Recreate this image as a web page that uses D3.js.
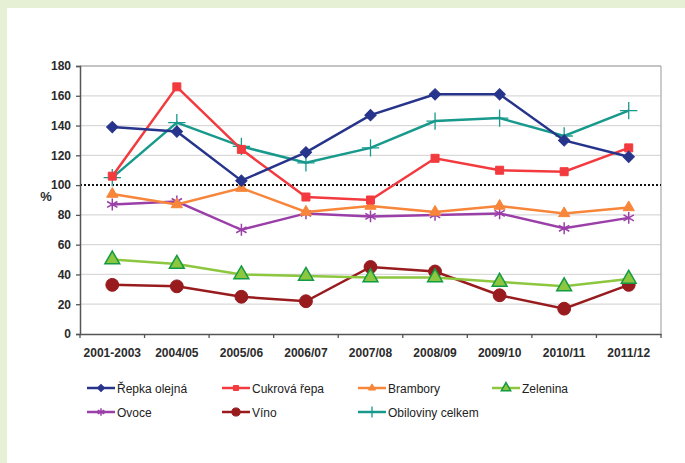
<!DOCTYPE html>
<html>
<head>
<meta charset="utf-8">
<script src="https://cdn.jsdelivr.net/npm/d3@7"></script>
<style>
  body { margin: 0; background: #fff; }
  text { font-family: "Liberation Sans", Arial, sans-serif; }
</style>
</head>
<body>
<div id="chart"></div>
<script>
// categories and series values
var categories = ["2001-2003", "2004/05", "2005/06", "2006/07", "2007/08", "2008/09", "2009/10", "2010/11", "2011/12"];
var yTicks = [0, 20, 40, 60, 80, 100, 120, 140, 160, 180];

var repka = [139, 136, 103, 122, 147, 161, 161, 130, 119];
var cukrovka = [106, 166, 124, 92, 90, 118, 110, 109, 125];
var brambory = [94, 87, 98, 82, 86, 82, 86, 81, 85];
var zelenina = [50, 47, 40, 39, 38, 38, 35, 32, 37];
var ovoce = [87, 89, 70, 81, 79, 80, 81, 71, 78];
var vino = [33, 32, 25, 22, 45, 42, 26, 17, 33];
var obiloviny = [105, 142, 126, 115, 125, 143, 145, 133, 150];

var width = 685, height = 463;

// plot area
var margin = { top: 66, right: 24, bottom: 129, left: 80 };

var svg = d3.select("#chart").append("svg")
  .attr("width", width)
  .attr("height", height);

// light green frame of the page
svg.append("rect").attr("x", 0).attr("y", 0).attr("width", width).attr("height", 8).attr("fill", "#e6f0d5");
svg.append("rect").attr("x", 0).attr("y", 0).attr("width", 7).attr("height", height).attr("fill", "#e6f0d5");

var x = d3.scaleBand()
  .domain(categories)
  .range([margin.left, width - margin.right]);

var y = d3.scaleLinear()
  .domain([0, 180])
  .range([height - margin.bottom, margin.top]);

// gridlines
svg.append("g")
  .selectAll("line")
  .data(yTicks.filter(function (d) { return d > 0 && d !== 100; }))
  .join("line")
  .attr("x1", margin.left)
  .attr("x2", width - margin.right)
  .attr("y1", function (d) { return y(d); })
  .attr("y2", function (d) { return y(d); })
  .attr("stroke", function (d) { return d === 180 ? "#b0b0b0" : "#d9d9d9"; })
  .attr("stroke-width", function (d) { return d === 180 ? 1.5 : 1.3; });

// right border of the plot area
svg.append("line")
  .attr("x1", width - margin.right).attr("x2", width - margin.right)
  .attr("y1", margin.top).attr("y2", height - margin.bottom)
  .attr("stroke", "#b0b0b0").attr("stroke-width", 1.3);

// dotted line at 100 %
svg.append("line")
  .attr("x1", margin.left).attr("x2", width - margin.right)
  .attr("y1", y(100)).attr("y2", y(100))
  .attr("stroke", "#111").attr("stroke-width", 2)
  .attr("stroke-dasharray", "2,2");

// axes
var yAxis = svg.append("g")
  .attr("transform", "translate(" + margin.left + ",0)")
  .call(d3.axisLeft(y).tickValues(yTicks).tickSize(4).tickPadding(5));

var xAxis = svg.append("g")
  .attr("transform", "translate(0," + (height - margin.bottom) + ")")
  .call(d3.axisBottom(x).tickSize(0).tickPadding(14));

// tick marks between categories
xAxis.selectAll(".sep")
  .data(d3.range(categories.length + 1))
  .join("line")
  .attr("class", "sep")
  .attr("x1", function (i) { return margin.left + i * x.step(); })
  .attr("x2", function (i) { return margin.left + i * x.step(); })
  .attr("y1", 0).attr("y2", 4)
  .attr("stroke", "#555").attr("stroke-width", 1.3);

[yAxis, xAxis].forEach(function (ax) {
  ax.select(".domain").attr("stroke", "#555").attr("stroke-width", 1.5);
  ax.selectAll(".tick line").attr("stroke", "#555").attr("stroke-width", 1.3);
  ax.selectAll("text")
    .attr("font-family", "Liberation Sans, Arial, sans-serif")
    .attr("font-size", 12)
    .attr("font-weight", "bold")
    .attr("fill", "#2b2b2b");
});

// y axis label
svg.append("text")
  .attr("x", 46)
  .attr("y", 201)
  .attr("text-anchor", "middle")
  .attr("font-size", 13)
  .attr("font-weight", "bold")
  .attr("fill", "#2b2b2b")
  .text("%");

// series definitions
var series = [
  { name: "Řepka olejná", values: repka, color: "#27348b", symbol: d3.symbolSquare, rot: 45, size: 64, fill: "#27348b", stroke: "#27348b", sw: 1 },
  { name: "Cukrová řepa", values: cukrovka, color: "#f23a3f", symbol: d3.symbolSquare, rot: 0, size: 64, fill: "#f23a3f", stroke: "#f23a3f", sw: 1 },
  { name: "Brambory", values: brambory, color: "#f7853a", symbol: d3.symbolTriangle, rot: 0, size: 55, fill: "#f7853a", stroke: "#f7853a", sw: 1 },
  { name: "Zelenina", values: zelenina, color: "#8dc63f", symbol: d3.symbolTriangle, rot: 0, size: 95, fill: "#8dc63f", stroke: "#139a45", sw: 1.5 },
  { name: "Ovoce", values: ovoce, color: "#9b3fa8", symbol: d3.symbolAsterisk, rot: 0, size: 100, fill: "none", stroke: "#9b3fa8", sw: 1.5 },
  { name: "Víno", values: vino, color: "#981b1e", symbol: d3.symbolCircle, rot: 0, size: 130, fill: "#981b1e", stroke: "#981b1e", sw: 1 },
  { name: "Obiloviny celkem", values: obiloviny, color: "#17998c", symbol: d3.symbolPlus, rot: 0, size: 100, fill: "none", stroke: "#17998c", sw: 1.3 }
];

var line = d3.line()
  .x(function (d, i) { return x(categories[i]) + x.bandwidth() / 2; })
  .y(function (d) { return y(d); });

// draw in reverse so the first series sits on top
series.slice().reverse().forEach(function (s) {
  var g = svg.append("g");
  g.append("path")
    .attr("d", line(s.values))
    .attr("fill", "none")
    .attr("stroke", s.color)
    .attr("stroke-width", 2.5);
  g.selectAll("path.m")
    .data(s.values)
    .join("path")
    .attr("class", "m")
    .attr("transform", function (d, i) {
      return "translate(" + (x(categories[i]) + x.bandwidth() / 2) + "," + y(d) + ")rotate(" + s.rot + ")";
    })
    .attr("d", d3.symbol().type(s.symbol).size(s.size))
    .attr("fill", s.fill)
    .attr("stroke", s.stroke)
    .attr("stroke-width", s.sw);
});

// legend
var legendX = [87, 222, 358, 492];
var legendY = [388, 412];

var legend = svg.append("g");
series.forEach(function (s, i) {
  var lx = legendX[i % 4], ly = legendY[Math.floor(i / 4)];
  var item = legend.append("g").attr("transform", "translate(" + lx + "," + ly + ")");
  item.append("line")
    .attr("x1", 0).attr("x2", 28)
    .attr("y1", 0).attr("y2", 0)
    .attr("stroke", s.color).attr("stroke-width", 2.5);
  item.append("path")
    .attr("transform", "translate(14,0)rotate(" + s.rot + ")")
    .attr("d", d3.symbol().type(s.symbol).size(s.size * 0.4))
    .attr("fill", s.fill)
    .attr("stroke", s.stroke)
    .attr("stroke-width", s.sw);
  item.append("text")
    .attr("x", 30)
    .attr("y", 4.5)
    .attr("font-size", 12)
    .attr("fill", "#222")
    .text(s.name);
});
</script>
</body>
</html>
